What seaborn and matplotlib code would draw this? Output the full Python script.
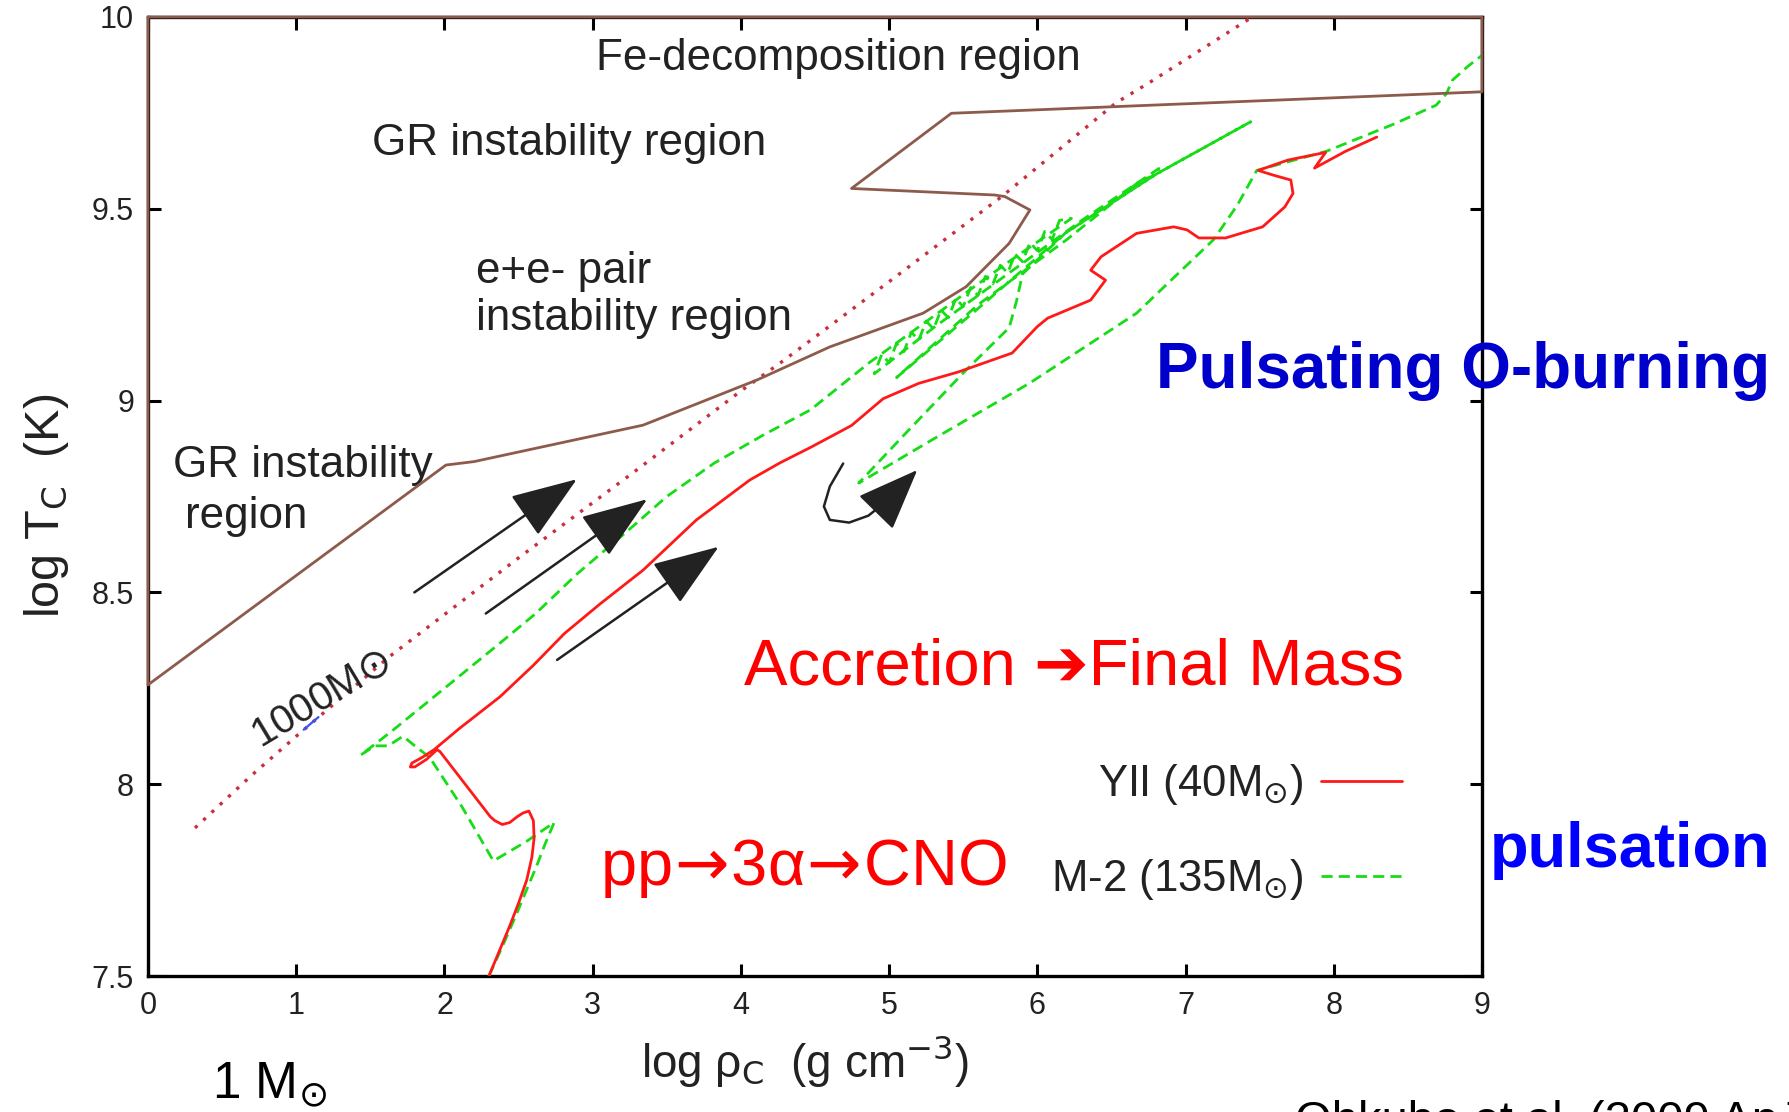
import numpy as np
import pandas as pd
import matplotlib
matplotlib.use("Agg")
import matplotlib.pyplot as plt
import seaborn as sns

# ---------------------------------------------------------------------------
# Central density / temperature tracks (log rho_c [g cm^-3], log T_c [K])
# ---------------------------------------------------------------------------
yii_rho = [2.30, 2.37, 2.44, 2.50, 2.555, 2.59, 2.605, 2.60, 2.57, 2.53, 2.49, 2.44,
           2.39, 2.34, 2.31, 2.14, 1.97, 1.95, 1.88, 1.80, 1.77, 1.78, 1.85, 1.93,
           2.10, 2.375, 2.60, 2.81, 3.05, 3.34, 3.70, 4.06, 4.265, 4.47, 4.746, 4.96,
           5.20, 5.47, 5.83, 6.00, 6.07, 6.36, 6.46, 6.36, 6.43, 6.67, 6.92, 7.01,
           7.09, 7.27, 7.52, 7.67, 7.725, 7.71, 7.59, 7.49, 7.69, 7.945, 7.87, 8.08, 8.29]
yii_tc = [7.50, 7.565, 7.63, 7.69, 7.75, 7.81, 7.86, 7.905, 7.93, 7.925, 7.915, 7.90,
          7.895, 7.905, 7.915, 8.00, 8.085, 8.09, 8.065, 8.045, 8.045, 8.055, 8.07, 8.09,
          8.145, 8.228, 8.31, 8.393, 8.47, 8.558, 8.689, 8.793, 8.838, 8.878, 8.935, 9.005,
          9.045, 9.075, 9.124, 9.193, 9.215, 9.262, 9.314, 9.34, 9.375, 9.436, 9.453, 9.445,
          9.424, 9.424, 9.453, 9.505, 9.54, 9.575, 9.588, 9.60, 9.627, 9.647, 9.606, 9.65, 9.687]

m2_rho = [2.30, 2.40, 2.49, 2.56, 2.62, 2.68, 2.74, 2.55, 2.33, 2.12, 1.90, 1.80,
          1.72, 1.68, 1.62, 1.53, 1.435, 1.55, 1.65, 2.00, 2.35, 2.616, 2.90, 3.22,
          3.50, 3.82, 4.15, 4.47, 4.87, 5.30, 5.80, 6.23,
          # pulsation band
          6.15, 6.10, 6.05, 6.00, 5.95, 5.90, 5.85, 5.80, 5.75, 5.70, 5.65, 5.60, 5.55,
          5.50, 5.45, 5.40, 5.35, 5.30, 5.25, 5.20, 5.15, 5.10, 5.05, 5.00, 4.95, 4.90,
          # larger pulses
          5.30, 5.80, 6.30, 6.82, 6.78, 6.70, 6.20, 5.60, 5.05,
          5.60, 6.19, 6.80, 7.44, 6.80, 6.19, 5.90,
          # expansion and final contraction
          5.86, 5.81, 5.52, 5.10, 4.795, 5.30, 5.95, 6.67, 7.19, 7.35, 7.48,
          7.95, 8.40, 8.69, 8.76, 8.80, 8.90, 9.00]
m2_tc = [7.50, 7.585, 7.665, 7.73, 7.785, 7.845, 7.90, 7.85, 7.80, 7.94, 8.07, 8.10,
         8.125, 8.115, 8.10, 8.10, 8.076, 8.11, 8.14, 8.25, 8.36, 8.445, 8.55, 8.655,
         8.75, 8.837, 8.91, 8.976, 9.10, 9.22, 9.36, 9.475,
         9.470, 9.420, 9.441, 9.391, 9.412, 9.362, 9.382, 9.333, 9.353, 9.304, 9.324,
         9.274, 9.295, 9.245, 9.266, 9.216, 9.236, 9.187, 9.207, 9.158, 9.178, 9.128,
         9.149, 9.099, 9.120, 9.070,
         9.19, 9.33, 9.47, 9.605, 9.585, 9.575, 9.42, 9.25, 9.06,
         9.24, 9.437, 9.59, 9.727, 9.59, 9.437, 9.33,
         9.26, 9.19, 9.08, 8.91, 8.785, 8.90, 9.046, 9.228, 9.42, 9.51, 9.60,
         9.65, 9.72, 9.77, 9.80, 9.835, 9.87, 9.90]

m1000_rho = [0.317, 0.69, 1.00, 1.63, 2.50, 3.30, 4.01, 4.265, 5.00, 5.76, 6.53, 6.76, 7.45]
m1000_tc = [7.886, 8.02, 8.125, 8.333, 8.59, 8.82, 9.028, 9.098, 9.31, 9.532, 9.776, 9.83, 10.0]
m1000_blue_rho = [1.05, 1.15]
m1000_blue_tc = [8.142, 8.175]

# Boundary of the GR / pair / Fe-decomposition instability regions
bound_rho = [0.0, 2.01, 2.20, 3.34, 4.11, 4.60, 5.23, 5.52, 5.81, 5.95, 5.78, 5.71,
             4.746, 5.42, 9.0, 9.0, 0.0, 0.0]
bound_tc = [8.259, 8.832, 8.841, 8.936, 9.054, 9.14, 9.228, 9.297, 9.41, 9.497, 9.532,
            9.536, 9.553, 9.749, 9.805, 10.0, 10.0, 8.259]

# Direction arrows: (tail, tip)
straight_arrows = [((1.797, 8.500), (2.893, 8.795)),
                   ((2.279, 8.445), (3.368, 8.743)),
                   ((2.760, 8.324), (3.850, 8.619))]
hook_rho = [4.69, 4.60, 4.56, 4.60, 4.73, 4.86, 4.99]
hook_tc = [8.836, 8.776, 8.724, 8.689, 8.682, 8.70, 8.74]
hook_tip = (5.19, 8.819)

x_ticks = [0, 1, 2, 3, 4, 5, 6, 7, 8, 9]
y_ticks = [7.5, 8, 8.5, 9, 9.5, 10]
y_tick_labels = ["7.5", "8", "8.5", "9", "9.5", "10"]

# ---------------------------------------------------------------------------
sns.set_style("ticks")
plt.rcParams["font.family"] = ["Liberation Sans", "DejaVu Sans"]
plt.rcParams["mathtext.fontset"] = "dejavusans"

W, H = 1790, 1112
fig = plt.figure(figsize=(W / 100, H / 100), dpi=100)
ax = fig.add_axes([148 / W, 1 - 976 / H, 1334 / W, 959 / H])

RED = "#ff1a1a"
GREEN = "#16dd16"
BROWN = "#8d5b4c"
DOT_RED = "#c8303f"
INK = "#222222"

bound = pd.DataFrame({"rho": bound_rho, "tc": bound_tc})
sns.lineplot(data=bound, x="rho", y="tc", sort=False, estimator=None,
             color=BROWN, lw=2.0, ax=ax, zorder=4)
ax.lines[-1].set_clip_on(False)

m1000 = pd.DataFrame({"rho": m1000_rho, "tc": m1000_tc})
sns.lineplot(data=m1000, x="rho", y="tc", sort=False, estimator=None,
             color=DOT_RED, lw=2.4, linestyle=(0, (1, 2.4)), ax=ax, zorder=3)
sns.lineplot(x=m1000_blue_rho, y=m1000_blue_tc, sort=False, estimator=None,
             color="#3355ff", lw=1.6, ax=ax, zorder=3)

m2 = pd.DataFrame({"rho": m2_rho, "tc": m2_tc})
sns.lineplot(data=m2, x="rho", y="tc", sort=False, estimator=None,
             color=GREEN, lw=2.0, linestyle=(0, (4, 2.2)), ax=ax, zorder=3,
             label=r"M-2 (135M$_{\odot}$)")
m2_line = ax.lines[-1]

yii = pd.DataFrame({"rho": yii_rho, "tc": yii_tc})
sns.lineplot(data=yii, x="rho", y="tc", sort=False, estimator=None,
             color=RED, lw=2.0, ax=ax, zorder=3, label=r"YII (40M$_{\odot}$)")
yii_line = ax.lines[-1]

# Arrows
for tail, tip in straight_arrows:
    ax.annotate("", xy=tip, xytext=tail,
                arrowprops=dict(arrowstyle="-|>,head_length=1.5,head_width=0.55",
                                mutation_scale=28, lw=1.8, color=INK,
                                shrinkA=0, shrinkB=0))
ax.plot(hook_rho, hook_tc, color=INK, lw=1.8, zorder=5)
ax.annotate("", xy=hook_tip, xytext=(hook_rho[-1], hook_tc[-1]),
            arrowprops=dict(arrowstyle="-|>,head_length=1.4,head_width=0.55",
                            mutation_scale=28, lw=1.8, color=INK,
                            shrinkA=0, shrinkB=0))

ax.set_xlim(0, 9)
ax.set_ylim(7.5, 10)
ax.set_xticks(x_ticks)
ax.set_xticklabels([str(v) for v in x_ticks])
ax.set_yticks(y_ticks)
ax.set_yticklabels(y_tick_labels)
ax.tick_params(direction="in", length=9, width=2.2, top=True, right=True,
               labelsize=22, colors="black", labelcolor="#222222")
ax.tick_params(axis="x", pad=11)
ax.tick_params(axis="y", pad=10)
for sp in ax.spines.values():
    sp.set_linewidth(2.4)
    sp.set_color("black")

ax.set_xlabel(r"log ρ$_{\mathrm{C}}$  (g cm$^{\mathrm{-3}}$)", fontsize=33, color="#222222")
ax.xaxis.label.set_va("baseline")
ax.xaxis.set_label_coords(0.4925, -0.105)
ax.set_ylabel(r"log T$_{\mathrm{C}}$  (K)", fontsize=35, color="#222222")
ax.yaxis.set_label_coords(-0.058, 0.4906)

# Legend (labels before the line samples)
ax.legend(handles=[yii_line, m2_line], labels=[r"YII (40M$_{\odot}$)", r"M-2 (135M$_{\odot}$)"],
          loc="center right", bbox_to_anchor=(0.940, 0.150), frameon=False,
          markerfirst=False, fontsize=31.5, handlelength=1.85, handletextpad=0.4,
          labelspacing=1.15, borderpad=0, borderaxespad=0, labelcolor="#222222")

# Region labels
region_kw = dict(fontsize=31.7, color="#222222", ha="left", va="baseline")
ax.text(3.02, 9.862, "Fe-decomposition region", **region_kw)
ax.text(1.51, 9.640, "GR instability region", **region_kw)
ax.text(2.216, 9.307, "e+e- pair", **region_kw)
ax.text(2.216, 9.184, "instability region", **region_kw)
ax.text(0.17, 8.80, "GR instability", **region_kw)
ax.text(0.25, 8.667, "region", **region_kw)
ax.text(1.17, 8.222, r"1000M$\odot$", fontsize=29, color="#222222", rotation=31,
        ha="center", va="center", rotation_mode="anchor")

# Burning-stage annotations
ax.text(4.02, 8.259, "Accretion \u2794Final Mass", fontsize=47, color="#ff0000",
        ha="left", va="baseline", family=["Liberation Sans", "DejaVu Sans"])
ax.text(3.05, 7.737, r"pp$\!\rightarrow\!$3α$\!\rightarrow\!$CNO", fontsize=46.8,
        color="#ff0000", ha="left", va="baseline")

fig.text(1156 / W, 1 - 388 / H, "Pulsating O-burning", fontsize=46, fontweight="bold",
         color="#0000cc", ha="left", va="baseline")
fig.text(1490 / W, 1 - 867 / H, "pulsation", fontsize=45.5, fontweight="bold",
         color="#0000ff", ha="left", va="baseline")
fig.text(212 / W, 1 - 1098 / H, r"1 M$_{\odot}$", fontsize=37, color="black",
         ha="left", va="baseline")
fig.text(1295 / W, 1 - 1134 / H, "Ohkubo et al. (2009 ApJ 706, 1184)", fontsize=34,
         color="black", ha="left", va="baseline")

fig.savefig("out.png", dpi=100, facecolor="white")
